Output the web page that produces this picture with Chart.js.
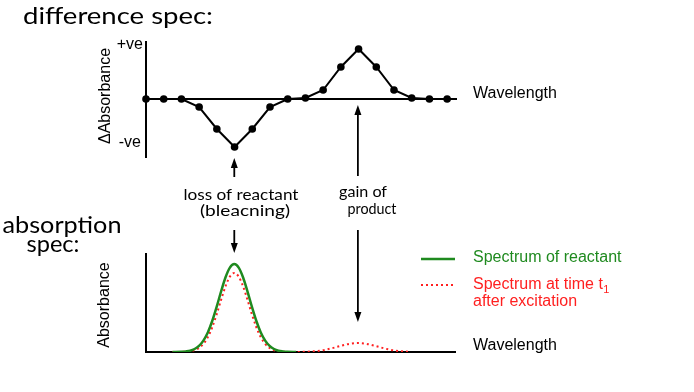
<!DOCTYPE html>
<html>
<head>
<meta charset="utf-8">
<script src="https://cdn.jsdelivr.net/npm/chart.js@4.4.1/dist/chart.umd.min.js"></script>
<style>
  html, body { margin: 0; padding: 0; background: #fff; }
  #wrap { position: relative; width: 694px; height: 392px; }
  #wrap canvas { position: absolute; left: 0; top: 0; }
</style>
</head>
<body>
<div id="wrap">
  <canvas id="diffChart" width="694" height="392"></canvas>
  <canvas id="absChart" width="694" height="392"></canvas>
</div>
<script>
// difference spectrum (top panel)
const diffWavelength = [0, 1, 2, 3, 4, 5, 6, 7, 8, 9, 10, 11, 12, 13, 14, 15, 16, 17];
const diffValues = [0, 0, 0, -8, -30, -48, -30, -8, 0, 1, 9, 32, 50, 32, 9, 1, 0, 0];

// absorption spectra (bottom panel)
const absWavelength = [1.5, 2, 2.25, 2.5, 2.75, 3, 3.25, 3.5, 3.75, 4, 4.25, 4.5, 4.75, 5,
  5.25, 5.5, 5.75, 6, 6.25, 6.5, 6.75, 7, 7.25, 7.5, 7.75, 8, 8.5,
  9, 9.5, 10, 10.5, 11, 11.5, 12, 12.5, 13, 13.5, 14, 14.5, 15];
const reactantValues = [0, 0.2, 0.6, 1.3, 3.0, 6.1, 11.4, 19.6, 31.0, 45.1, 60.4, 74.5, 84.4, 88,
  84.4, 74.5, 60.4, 45.1, 31.0, 19.6, 11.4, 6.1, 3.0, 1.3, 0.6, 0.2, 0,
  null, null, null, null, null, null, null, null, null, null, null, null, null];
const excitedValues = [0, 0.1, 0.3, 0.8, 1.8, 4.0, 8.1, 14.8, 24.7, 37.6, 52.0, 65.6, 75.4, 79,
  75.4, 65.6, 52.0, 37.6, 24.7, 14.8, 8.1, 4.0, 1.8, 0.8, 0.3, 0.1, 0.1,
  0.2, 0.7, 1.7, 3.6, 6.0, 8.1, 9.0, 8.1, 6.0, 3.6, 1.7, 0.7, 0.2];

const bleachPeak = 5;    // wavelength of reactant band
const productPeak = 12;  // wavelength of product band

const GREEN = '#1f8a1f';
const RED = '#ff2020';
const HAND = '"Lato", "Open Sans", sans-serif';

Chart.defaults.font.family = '"Liberation Sans", Arial, sans-serif';
Chart.defaults.color = '#000';

// shared axis look: just a black border line, no ticks or grid
function bareAxis(extra) {
  return Object.assign({
    grid: { display: false, drawTicks: false },
    ticks: { display: false },
    border: { display: true, color: '#000', width: 2 }
  }, extra);
}

// text written with a target width (handwritten-looking labels)
function hand(ctx, text, cx, cy, size, width) {
  ctx.save();
  ctx.font = size + 'px ' + HAND;
  ctx.textAlign = 'center';
  ctx.textBaseline = 'middle';
  const w = ctx.measureText(text).width;
  ctx.translate(cx, cy);
  ctx.scale(width / w, 1);
  ctx.fillText(text, 0, 0);
  ctx.restore();
}

function arrow(ctx, x, yFrom, yTip) {
  const dir = Math.sign(yTip - yFrom);
  const len = 10, half = 3.5;
  ctx.beginPath();
  ctx.moveTo(x, yFrom);
  ctx.lineTo(x, yTip - dir * len);
  ctx.stroke();
  ctx.beginPath();
  ctx.moveTo(x, yTip);
  ctx.lineTo(x - half, yTip - dir * len);
  ctx.lineTo(x + half, yTip - dir * len);
  ctx.closePath();
  ctx.fill();
}

// labels for the top panel
const diffLabels = {
  id: 'diffLabels',
  afterDraw(chart) {
    const ctx = chart.ctx;
    const area = chart.chartArea;
    const y = chart.scales.y;
    ctx.save();
    ctx.fillStyle = '#000';
    ctx.font = '16px "Liberation Sans", Arial, sans-serif';
    ctx.textBaseline = 'middle';
    ctx.textAlign = 'right';
    ctx.fillText('+ve', area.left - 3, 45);
    ctx.fillText('-ve', area.left - 5, 143);
    ctx.textAlign = 'left';
    ctx.fillText('Wavelength', 473, y.getPixelForValue(0) - 5);
    ctx.translate(106, 96);
    ctx.rotate(-Math.PI / 2);
    ctx.textAlign = 'center';
    ctx.fillText('\u0394Absorbance', 0, 0);
    ctx.restore();
  }
};

// labels, legend and arrows for the bottom panel
const absLabels = {
  id: 'absLabels',
  afterDraw(chart) {
    const ctx = chart.ctx;
    const x = chart.scales.x;
    ctx.save();
    ctx.fillStyle = '#000';
    ctx.strokeStyle = '#000';
    ctx.lineWidth = 1.8;

    const xa = x.getPixelForValue(bleachPeak);
    const xb = x.getPixelForValue(productPeak);
    arrow(ctx, xa, 177, 158);
    arrow(ctx, xa, 230, 253);
    arrow(ctx, xb, 176, 105);
    arrow(ctx, xb, 230, 322);

    hand(ctx, 'difference spec:', 118, 17, 23, 190);
    hand(ctx, 'absorption', 62, 226, 23, 119);
    hand(ctx, 'spec:', 53, 245, 23, 53);
    hand(ctx, 'loss of reactant', 241, 195, 16, 115);
    hand(ctx, '(bleacning)', 245, 211, 16, 90);
    hand(ctx, 'gain of', 363, 192, 16, 48);
    hand(ctx, 'product', 372, 209, 16, 49);

    ctx.font = '16px "Liberation Sans", Arial, sans-serif';
    ctx.textBaseline = 'middle';
    ctx.textAlign = 'left';
    ctx.fillText('Wavelength', 473, 346);

    // legend
    ctx.lineWidth = 2.5;
    ctx.strokeStyle = GREEN;
    ctx.beginPath(); ctx.moveTo(421, 259); ctx.lineTo(455, 259); ctx.stroke();
    ctx.fillStyle = GREEN;
    ctx.fillText('Spectrum of reactant', 473, 258);
    ctx.strokeStyle = RED;
    ctx.lineWidth = 2;
    ctx.setLineDash([2, 3]);
    ctx.beginPath(); ctx.moveTo(421, 285); ctx.lineTo(455, 285); ctx.stroke();
    ctx.setLineDash([]);
    ctx.fillStyle = RED;
    const t = 'Spectrum at time t';
    ctx.fillText(t, 473, 285);
    const tw = ctx.measureText(t).width;
    ctx.font = '11px "Liberation Sans", Arial, sans-serif';
    ctx.fillText('1', 473 + tw + 0.5, 290);
    ctx.font = '16px "Liberation Sans", Arial, sans-serif';
    ctx.fillText('after excitation', 473, 302);

    ctx.fillStyle = '#000';
    ctx.translate(105, 305);
    ctx.rotate(-Math.PI / 2);
    ctx.textAlign = 'center';
    ctx.fillText('Absorbance', 0, 0);
    ctx.restore();
  }
};

new Chart(document.getElementById('diffChart'), {
  type: 'line',
  data: {
    datasets: [{
      data: diffWavelength.map((w, i) => ({ x: w, y: diffValues[i] })),
      borderColor: '#000',
      borderWidth: 2,
      pointRadius: 3.8,
      pointBackgroundColor: '#000',
      pointBorderWidth: 0,
      tension: 0,
      clip: false
    }]
  },
  options: {
    responsive: false,
    animation: false,
    events: [],
    layout: { autoPadding: false, padding: { left: 146, right: 238, top: 42, bottom: 235 } },
    plugins: { legend: { display: false }, tooltip: { enabled: false } },
    scales: {
      x: bareAxis({ type: 'linear', min: 0, max: 17.5, position: { y: 0 } }),
      y: bareAxis({ type: 'linear', min: -58, max: 57 })
    }
  },
  plugins: [diffLabels]
});

new Chart(document.getElementById('absChart'), {
  type: 'line',
  data: {
    datasets: [{
      label: 'Spectrum of reactant',
      data: absWavelength.map((w, i) => ({ x: w, y: reactantValues[i] })),
      borderColor: GREEN,
      borderWidth: 2.5,
      pointRadius: 0,
      cubicInterpolationMode: 'monotone',
      spanGaps: false
    }, {
      label: 'Spectrum at time t1 after excitation',
      data: absWavelength.map((w, i) => ({ x: w, y: excitedValues[i] })),
      borderColor: RED,
      borderWidth: 2,
      borderDash: [2, 3],
      pointRadius: 0,
      cubicInterpolationMode: 'monotone'
    }]
  },
  options: {
    responsive: false,
    animation: false,
    events: [],
    layout: { autoPadding: false, padding: { left: 146, right: 239, top: 254, bottom: 40 } },
    plugins: { legend: { display: false }, tooltip: { enabled: false } },
    scales: {
      x: bareAxis({ type: 'linear', min: 0, max: 17.5 }),
      y: bareAxis({ type: 'linear', min: 0, max: 98 })
    }
  },
  plugins: [absLabels]
});
</script>
</body>
</html>
